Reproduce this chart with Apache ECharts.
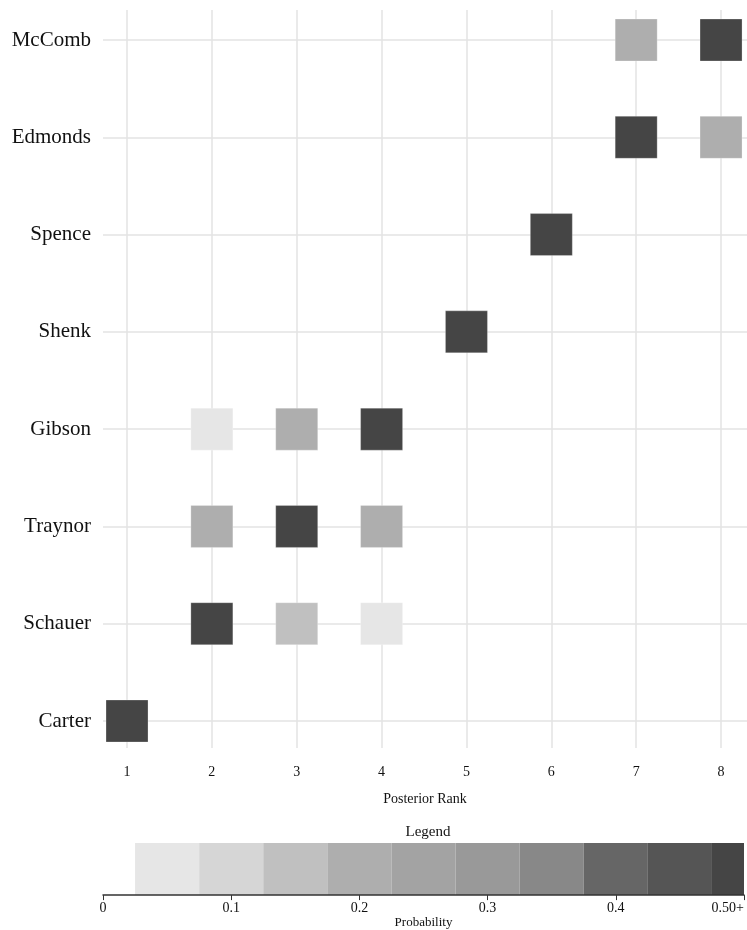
<!DOCTYPE html>
<html><head><meta charset="utf-8">
<script src="https://cdn.jsdelivr.net/npm/echarts@6/dist/echarts.min.js"></script>
<style>html,body{margin:0;padding:0;background:#fff}#c{width:747px;height:930px}</style>
</head><body><div id="c"></div>
<script>
const players = ['Carter','Schauer','Traynor','Gibson','Shenk','Spence','Edmonds','McComb'];
const ranks = [1,2,3,4,5,6,7,8];
const cellPlayer = ['McComb','McComb','Edmonds','Edmonds','Spence','Shenk','Gibson','Gibson','Gibson','Traynor','Traynor','Traynor','Schauer','Schauer','Schauer','Carter'];
const cellRank = [7,8,7,8,6,5,2,3,4,2,3,4,2,3,4,1];
const cellProb = [0.2,0.8,0.8,0.2,1.0,1.0,0.05,0.2,0.75,0.2,0.6,0.2,0.75,0.15,0.05,1.0];
const binEdges = [0.025,0.075,0.125,0.175,0.225,0.275,0.325,0.375,0.425,0.475,0.5];
const binColors = ['#e6e6e6','#d6d6d6','#c0c0c0','#aeaeae','#a3a3a3','#999999','#888888','#666666','#555555','#454545'];
const legendTicks = [0,0.1,0.2,0.3,0.4,0.5];
const legendTickLabels = ['0','0.1','0.2','0.3','0.4','0.50+'];

const FONT = 'Liberation Serif';
const cells = cellRank.map((r,i)=>[r, cellPlayer[i], cellProb[i]]);
const pieces = binColors.map((c,i)=>{
  const p = {color:c};
  if (i>0) p.gte = binEdges[i];
  if (i<binColors.length-1) p.lt = binEdges[i+1];
  return p;
});
const legendSeries = [{
  type:'bar', stack:'lg', xAxisIndex:2, yAxisIndex:2, silent:true, z:1,
  barWidth:'100%', itemStyle:{color:'transparent'}, data:[binEdges[0]]
}].concat(binColors.map((c,i)=>({
  type:'bar', stack:'lg', xAxisIndex:2, yAxisIndex:2, silent:true, z:1,
  barWidth:'100%', itemStyle:{color:c}, data:[+(binEdges[i+1]-binEdges[i]).toFixed(4)]
})));

const XMIN = 0.717, XMAX = 8.306;
const chart = echarts.init(document.getElementById('c'), null, {renderer:'canvas'});
chart.setOption({
  animation:false,
  backgroundColor:'#fff',
  textStyle:{fontFamily:FONT},
  title:{text:'Legend', left:423, top:820, textAlign:'center',
    textStyle:{fontFamily:FONT, fontSize:15, fontWeight:'normal', color:'#111'}},
  visualMap:{type:'piecewise', show:false, dimension:2, seriesIndex:0, pieces:pieces},
  grid:[
    {left:103, right:0, top:10, bottom:182},
    {left:103, right:0, top:40, bottom:209},
    {left:103, right:3, top:843, height:62}
  ],
  xAxis:[
    {type:'value', gridIndex:0, min:XMIN, max:XMAX,
     axisLine:{show:false}, axisTick:{show:false, customValues:ranks},
     axisLabel:{customValues:ranks, fontFamily:FONT, fontSize:14, color:'#111', margin:17},
     splitLine:{show:true, lineStyle:{color:'#e3e3e3', width:1.5}},
     name:'Posterior Rank', nameLocation:'middle', nameGap:44,
     nameTextStyle:{fontFamily:FONT, fontSize:14, color:'#111'}},
    {type:'value', gridIndex:1, min:XMIN, max:XMAX, show:false},
    {type:'value', gridIndex:2, min:0, max:0.5, interval:0.1, z:10,
     axisLine:{show:true, lineStyle:{color:'#333', width:1.5}},
     axisTick:{show:true, length:5, inside:false, lineStyle:{color:'#333'}},
     axisLabel:{fontFamily:FONT, fontSize:14, color:'#111', margin:6, alignMaxLabel:'right',
       formatter:(v)=>{const i=legendTicks.findIndex(t=>Math.abs(t-v)<1e-9);return i>=0?legendTickLabels[i]:'';}},
     splitLine:{show:false},
     name:'Probability', nameLocation:'middle', nameGap:17,
     nameTextStyle:{fontFamily:FONT, fontSize:13, color:'#111'}}
  ],
  yAxis:[
    {type:'value', gridIndex:0, min:0, max:1, show:false},
    {type:'category', gridIndex:1, data:players, boundaryGap:false,
     axisLine:{show:false}, axisTick:{show:false},
     axisLabel:{fontFamily:FONT, fontSize:21, color:'#111', margin:12},
     splitLine:{show:true, lineStyle:{color:'#e3e3e3', width:1.5}}},
    {type:'category', gridIndex:2, data:['p'], show:false}
  ],
  series:[
    {type:'scatter', xAxisIndex:1, yAxisIndex:1, symbol:'rect', symbolSize:42,
     itemStyle:{opacity:1, borderColor:'rgba(255,255,255,0.25)', borderWidth:1}, data:cells}
  ].concat(legendSeries)
});
</script>
</body></html>
